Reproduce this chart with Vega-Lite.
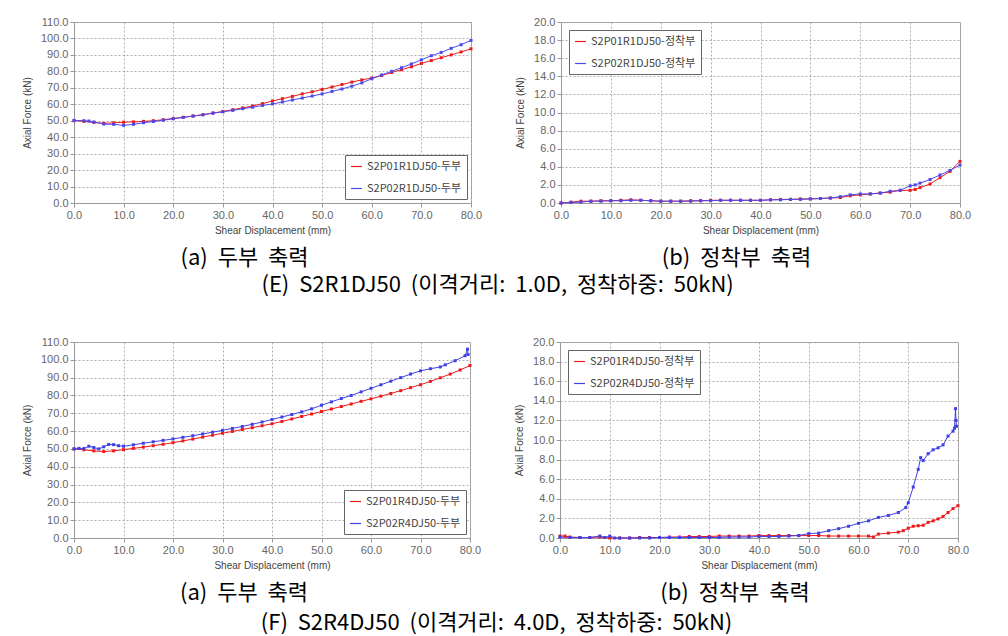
{
  "$schema": "https://vega.github.io/schema/vega-lite/v6.json",
  "background": "white",
  "padding": {"left": 21, "top": 15, "right": 6, "bottom": 2},
  "spacing": 39,
  "resolve": {"scale": {"x": "independent", "y": "independent", "color": "independent"}, "legend": {"color": "independent"}, "axis": {"x": "independent", "y": "independent"}},
  "config": {
    "font": "Liberation Sans",
    "view": {"stroke": "#9a9a9a", "strokeWidth": 1},
    "axis": {
      "labelFontSize": 11, "labelColor": "#666", "labelFont": "Liberation Sans", "labelFlush": false, "labelOverlap": false,
      "titleFontSize": 10, "titleColor": "#444", "titleFontWeight": "normal", "titleFont": "Liberation Sans",
      "gridColor": "#b0b0b0", "gridDash": [2, 2], "gridWidth": 1,
      "domainColor": "#9a9a9a", "tickColor": "#9a9a9a", "tickSize": 4, "labelPadding": 2
    },
    "axisY": {"titlePadding": 8},
    "axisX": {"titlePadding": 5},
    "legend": {
      "title": null, "strokeColor": "#666", "fillColor": "white", "padding": 5,
      "labelFontSize": 11, "labelColor": "#444", "labelFont": "Noto Sans CJK KR",
      "symbolType": "stroke", "symbolStrokeWidth": 1.2, "symbolSize": 120, "rowPadding": 10, "offset": 4
    },
    "title": {"font": "Noto Sans CJK KR", "fontSize": 22, "fontWeight": "normal", "color": "#000"}
  },
  "vconcat": [
    {
      "title": {"text": "(E) \u00a0S2R1DJ50 \u00a0(이격거리: \u00a01.0D, \u00a0정착하중: \u00a050kN)", "orient": "bottom", "anchor": "middle", "offset": 5, "dx": 1},
      "resolve": {"scale": {"x": "independent", "y": "independent", "color": "independent"}, "legend": {"color": "independent"}},
      "spacing": 32,
      "hconcat": [
        {
          "width": 397, "height": 181,
          "title": {"text": "(a) \u00a0두부 \u00a0축력", "orient": "bottom", "anchor": "middle", "frame": "group", "dx": -28, "offset": 13},
          "data": {"values": [
            {"s":"S2P01R1DJ50-두부","x":0,"y":50.0},{"s":"S2P01R1DJ50-두부","x":2,"y":49.6},{"s":"S2P01R1DJ50-두부","x":4,"y":49.0},{"s":"S2P01R1DJ50-두부","x":6,"y":48.4},{"s":"S2P01R1DJ50-두부","x":8,"y":48.7},{"s":"S2P01R1DJ50-두부","x":10,"y":49.1},{"s":"S2P01R1DJ50-두부","x":12,"y":49.3},{"s":"S2P01R1DJ50-두부","x":14,"y":49.6},{"s":"S2P01R1DJ50-두부","x":16,"y":50.0},{"s":"S2P01R1DJ50-두부","x":18,"y":50.6},{"s":"S2P01R1DJ50-두부","x":20,"y":51.4},{"s":"S2P01R1DJ50-두부","x":22,"y":52.1},{"s":"S2P01R1DJ50-두부","x":24,"y":52.9},{"s":"S2P01R1DJ50-두부","x":26,"y":53.7},{"s":"S2P01R1DJ50-두부","x":28,"y":54.7},{"s":"S2P01R1DJ50-두부","x":30,"y":55.6},{"s":"S2P01R1DJ50-두부","x":32,"y":56.7},{"s":"S2P01R1DJ50-두부","x":34,"y":57.8},{"s":"S2P01R1DJ50-두부","x":36,"y":59.0},{"s":"S2P01R1DJ50-두부","x":38,"y":60.4},{"s":"S2P01R1DJ50-두부","x":40,"y":62.0},{"s":"S2P01R1DJ50-두부","x":42,"y":63.4},{"s":"S2P01R1DJ50-두부","x":44,"y":64.8},{"s":"S2P01R1DJ50-두부","x":46,"y":66.3},{"s":"S2P01R1DJ50-두부","x":48,"y":67.6},{"s":"S2P01R1DJ50-두부","x":50,"y":69.0},{"s":"S2P01R1DJ50-두부","x":52,"y":70.5},{"s":"S2P01R1DJ50-두부","x":54,"y":72.0},{"s":"S2P01R1DJ50-두부","x":56,"y":73.5},{"s":"S2P01R1DJ50-두부","x":58,"y":74.8},{"s":"S2P01R1DJ50-두부","x":60,"y":76.0},{"s":"S2P01R1DJ50-두부","x":62,"y":77.5},{"s":"S2P01R1DJ50-두부","x":64,"y":79.3},{"s":"S2P01R1DJ50-두부","x":66,"y":81.0},{"s":"S2P01R1DJ50-두부","x":68,"y":82.8},{"s":"S2P01R1DJ50-두부","x":70,"y":84.8},{"s":"S2P01R1DJ50-두부","x":72,"y":86.6},{"s":"S2P01R1DJ50-두부","x":74,"y":88.3},{"s":"S2P01R1DJ50-두부","x":76,"y":90.0},{"s":"S2P01R1DJ50-두부","x":78,"y":91.8},{"s":"S2P01R1DJ50-두부","x":80,"y":93.7},
            {"s":"S2P02R1DJ50-두부","x":0,"y":50.2},{"s":"S2P02R1DJ50-두부","x":2,"y":50.0},{"s":"S2P02R1DJ50-두부","x":3,"y":49.8},{"s":"S2P02R1DJ50-두부","x":4,"y":49.2},{"s":"S2P02R1DJ50-두부","x":6,"y":48.0},{"s":"S2P02R1DJ50-두부","x":8,"y":47.8},{"s":"S2P02R1DJ50-두부","x":10,"y":47.2},{"s":"S2P02R1DJ50-두부","x":12,"y":47.8},{"s":"S2P02R1DJ50-두부","x":14,"y":48.8},{"s":"S2P02R1DJ50-두부","x":16,"y":49.5},{"s":"S2P02R1DJ50-두부","x":18,"y":50.3},{"s":"S2P02R1DJ50-두부","x":20,"y":51.2},{"s":"S2P02R1DJ50-두부","x":22,"y":52.0},{"s":"S2P02R1DJ50-두부","x":24,"y":52.8},{"s":"S2P02R1DJ50-두부","x":26,"y":53.6},{"s":"S2P02R1DJ50-두부","x":28,"y":54.6},{"s":"S2P02R1DJ50-두부","x":30,"y":55.4},{"s":"S2P02R1DJ50-두부","x":32,"y":56.3},{"s":"S2P02R1DJ50-두부","x":34,"y":57.3},{"s":"S2P02R1DJ50-두부","x":36,"y":58.2},{"s":"S2P02R1DJ50-두부","x":38,"y":59.3},{"s":"S2P02R1DJ50-두부","x":40,"y":60.2},{"s":"S2P02R1DJ50-두부","x":42,"y":61.4},{"s":"S2P02R1DJ50-두부","x":44,"y":62.6},{"s":"S2P02R1DJ50-두부","x":46,"y":63.8},{"s":"S2P02R1DJ50-두부","x":48,"y":65.0},{"s":"S2P02R1DJ50-두부","x":50,"y":66.3},{"s":"S2P02R1DJ50-두부","x":52,"y":67.8},{"s":"S2P02R1DJ50-두부","x":54,"y":69.3},{"s":"S2P02R1DJ50-두부","x":56,"y":71.0},{"s":"S2P02R1DJ50-두부","x":58,"y":73.0},{"s":"S2P02R1DJ50-두부","x":60,"y":75.5},{"s":"S2P02R1DJ50-두부","x":62,"y":77.8},{"s":"S2P02R1DJ50-두부","x":64,"y":80.0},{"s":"S2P02R1DJ50-두부","x":66,"y":82.2},{"s":"S2P02R1DJ50-두부","x":68,"y":84.5},{"s":"S2P02R1DJ50-두부","x":70,"y":87.0},{"s":"S2P02R1DJ50-두부","x":72,"y":89.5},{"s":"S2P02R1DJ50-두부","x":74,"y":91.5},{"s":"S2P02R1DJ50-두부","x":76,"y":94.0},{"s":"S2P02R1DJ50-두부","x":78,"y":96.2},{"s":"S2P02R1DJ50-두부","x":80,"y":98.8}
          ]},
          "encoding": {
            "x": {"field": "x", "type": "quantitative", "scale": {"domain": [0, 80], "nice": false, "padding": 0}, "axis": {"values": [0,10,20,30,40,50,60,70,80], "format": ".1f", "title": "Shear Displacement (mm)"}},
            "y": {"field": "y", "type": "quantitative", "scale": {"domain": [0, 110], "nice": false, "padding": 0}, "axis": {"values": [0,10,20,30,40,50,60,70,80,90,100,110], "format": ".1f", "title": "Axial Force (kN)"}},
            "color": {"field": "s", "type": "nominal", "scale": {"domain": ["S2P01R1DJ50-두부","S2P02R1DJ50-두부"], "range": ["#ee1a1a","#4a4af0"]}, "legend": {"orient": "bottom-right", "offset": 4}}
          },
          "layer": [
            {"mark": {"type": "line", "strokeWidth": 1}},
            {"mark": {"type": "point", "filled": true, "size": 9, "shape": "square", "opacity": 1}}
          ]
        },
        {
          "width": 399, "height": 181,
          "title": {"text": "(b) \u00a0정착부 \u00a0축력", "orient": "bottom", "anchor": "middle", "frame": "group", "dx": -24, "offset": 13},
          "data": {"values": [
            {"s":"S2P01R1DJ50-정착부","x":0,"y":0.0},{"s":"S2P01R1DJ50-정착부","x":2,"y":0.1},{"s":"S2P01R1DJ50-정착부","x":4,"y":0.2},{"s":"S2P01R1DJ50-정착부","x":6,"y":0.2},{"s":"S2P01R1DJ50-정착부","x":8,"y":0.25},{"s":"S2P01R1DJ50-정착부","x":10,"y":0.25},{"s":"S2P01R1DJ50-정착부","x":12,"y":0.3},{"s":"S2P01R1DJ50-정착부","x":14,"y":0.35},{"s":"S2P01R1DJ50-정착부","x":16,"y":0.3},{"s":"S2P01R1DJ50-정착부","x":18,"y":0.25},{"s":"S2P01R1DJ50-정착부","x":20,"y":0.2},{"s":"S2P01R1DJ50-정착부","x":22,"y":0.2},{"s":"S2P01R1DJ50-정착부","x":24,"y":0.2},{"s":"S2P01R1DJ50-정착부","x":26,"y":0.25},{"s":"S2P01R1DJ50-정착부","x":28,"y":0.25},{"s":"S2P01R1DJ50-정착부","x":30,"y":0.3},{"s":"S2P01R1DJ50-정착부","x":32,"y":0.3},{"s":"S2P01R1DJ50-정착부","x":34,"y":0.3},{"s":"S2P01R1DJ50-정착부","x":36,"y":0.3},{"s":"S2P01R1DJ50-정착부","x":38,"y":0.3},{"s":"S2P01R1DJ50-정착부","x":40,"y":0.3},{"s":"S2P01R1DJ50-정착부","x":42,"y":0.35},{"s":"S2P01R1DJ50-정착부","x":44,"y":0.4},{"s":"S2P01R1DJ50-정착부","x":46,"y":0.4},{"s":"S2P01R1DJ50-정착부","x":48,"y":0.45},{"s":"S2P01R1DJ50-정착부","x":50,"y":0.45},{"s":"S2P01R1DJ50-정착부","x":52,"y":0.5},{"s":"S2P01R1DJ50-정착부","x":54,"y":0.55},{"s":"S2P01R1DJ50-정착부","x":56,"y":0.6},{"s":"S2P01R1DJ50-정착부","x":58,"y":0.8},{"s":"S2P01R1DJ50-정착부","x":60,"y":0.9},{"s":"S2P01R1DJ50-정착부","x":62,"y":1.0},{"s":"S2P01R1DJ50-정착부","x":64,"y":1.1},{"s":"S2P01R1DJ50-정착부","x":66,"y":1.2},{"s":"S2P01R1DJ50-정착부","x":68,"y":1.4},{"s":"S2P01R1DJ50-정착부","x":70,"y":1.4},{"s":"S2P01R1DJ50-정착부","x":71,"y":1.5},{"s":"S2P01R1DJ50-정착부","x":72,"y":1.7},{"s":"S2P01R1DJ50-정착부","x":74,"y":2.1},{"s":"S2P01R1DJ50-정착부","x":76,"y":2.8},{"s":"S2P01R1DJ50-정착부","x":78,"y":3.5},{"s":"S2P01R1DJ50-정착부","x":80,"y":4.6},
            {"s":"S2P02R1DJ50-정착부","x":0,"y":0.0},{"s":"S2P02R1DJ50-정착부","x":2,"y":0.05},{"s":"S2P02R1DJ50-정착부","x":4,"y":0.1},{"s":"S2P02R1DJ50-정착부","x":6,"y":0.2},{"s":"S2P02R1DJ50-정착부","x":8,"y":0.2},{"s":"S2P02R1DJ50-정착부","x":10,"y":0.25},{"s":"S2P02R1DJ50-정착부","x":12,"y":0.25},{"s":"S2P02R1DJ50-정착부","x":14,"y":0.3},{"s":"S2P02R1DJ50-정착부","x":16,"y":0.3},{"s":"S2P02R1DJ50-정착부","x":18,"y":0.25},{"s":"S2P02R1DJ50-정착부","x":20,"y":0.2},{"s":"S2P02R1DJ50-정착부","x":22,"y":0.2},{"s":"S2P02R1DJ50-정착부","x":24,"y":0.2},{"s":"S2P02R1DJ50-정착부","x":26,"y":0.2},{"s":"S2P02R1DJ50-정착부","x":28,"y":0.25},{"s":"S2P02R1DJ50-정착부","x":30,"y":0.25},{"s":"S2P02R1DJ50-정착부","x":32,"y":0.3},{"s":"S2P02R1DJ50-정착부","x":34,"y":0.3},{"s":"S2P02R1DJ50-정착부","x":36,"y":0.3},{"s":"S2P02R1DJ50-정착부","x":38,"y":0.3},{"s":"S2P02R1DJ50-정착부","x":40,"y":0.3},{"s":"S2P02R1DJ50-정착부","x":42,"y":0.35},{"s":"S2P02R1DJ50-정착부","x":44,"y":0.35},{"s":"S2P02R1DJ50-정착부","x":46,"y":0.4},{"s":"S2P02R1DJ50-정착부","x":48,"y":0.4},{"s":"S2P02R1DJ50-정착부","x":50,"y":0.45},{"s":"S2P02R1DJ50-정착부","x":52,"y":0.5},{"s":"S2P02R1DJ50-정착부","x":54,"y":0.55},{"s":"S2P02R1DJ50-정착부","x":56,"y":0.7},{"s":"S2P02R1DJ50-정착부","x":58,"y":0.9},{"s":"S2P02R1DJ50-정착부","x":60,"y":1.0},{"s":"S2P02R1DJ50-정착부","x":62,"y":1.0},{"s":"S2P02R1DJ50-정착부","x":64,"y":1.1},{"s":"S2P02R1DJ50-정착부","x":66,"y":1.3},{"s":"S2P02R1DJ50-정착부","x":68,"y":1.4},{"s":"S2P02R1DJ50-정착부","x":70,"y":1.9},{"s":"S2P02R1DJ50-정착부","x":71,"y":2.0},{"s":"S2P02R1DJ50-정착부","x":72,"y":2.2},{"s":"S2P02R1DJ50-정착부","x":74,"y":2.6},{"s":"S2P02R1DJ50-정착부","x":76,"y":3.1},{"s":"S2P02R1DJ50-정착부","x":78,"y":3.6},{"s":"S2P02R1DJ50-정착부","x":80,"y":4.2}
          ]},
          "encoding": {
            "x": {"field": "x", "type": "quantitative", "scale": {"domain": [0, 80], "nice": false, "padding": 0}, "axis": {"values": [0,10,20,30,40,50,60,70,80], "format": ".1f", "title": "Shear Displacement (mm)"}},
            "y": {"field": "y", "type": "quantitative", "scale": {"domain": [0, 20], "nice": false, "padding": 0}, "axis": {"values": [0,2,4,6,8,10,12,14,16,18,20], "format": ".1f", "title": "Axial Force (kN)"}},
            "color": {"field": "s", "type": "nominal", "scale": {"domain": ["S2P01R1DJ50-정착부","S2P02R1DJ50-정착부"], "range": ["#ee1a1a","#4a4af0"]}, "legend": {"orient": "top-left", "offset": 8}}
          },
          "layer": [
            {"mark": {"type": "line", "strokeWidth": 1}},
            {"mark": {"type": "point", "filled": true, "size": 9, "shape": "square", "opacity": 1}}
          ]
        }
      ]
    },
    {
      "title": {"text": "(F) \u00a0S2R4DJ50 \u00a0(이격거리: \u00a04.0D, \u00a0정착하중: \u00a050kN)", "orient": "bottom", "anchor": "middle", "offset": 8, "dx": 1},
      "resolve": {"scale": {"x": "independent", "y": "independent", "color": "independent"}, "legend": {"color": "independent"}},
      "spacing": 32,
      "hconcat": [
        {
          "width": 396, "height": 196,
          "title": {"text": "(a) \u00a0두부 \u00a0축력", "orient": "bottom", "anchor": "middle", "frame": "group", "dx": -28, "offset": 13},
          "data": {"values": [
            {"s":"S2P01R4DJ50-두부","x":0,"y":50.0},{"s":"S2P01R4DJ50-두부","x":2,"y":49.5},{"s":"S2P01R4DJ50-두부","x":4,"y":48.9},{"s":"S2P01R4DJ50-두부","x":6,"y":48.5},{"s":"S2P01R4DJ50-두부","x":8,"y":48.9},{"s":"S2P01R4DJ50-두부","x":10,"y":49.6},{"s":"S2P01R4DJ50-두부","x":12,"y":50.3},{"s":"S2P01R4DJ50-두부","x":14,"y":51.0},{"s":"S2P01R4DJ50-두부","x":16,"y":51.8},{"s":"S2P01R4DJ50-두부","x":18,"y":52.6},{"s":"S2P01R4DJ50-두부","x":20,"y":53.5},{"s":"S2P01R4DJ50-두부","x":22,"y":54.5},{"s":"S2P01R4DJ50-두부","x":24,"y":55.5},{"s":"S2P01R4DJ50-두부","x":26,"y":56.6},{"s":"S2P01R4DJ50-두부","x":28,"y":57.7},{"s":"S2P01R4DJ50-두부","x":30,"y":58.8},{"s":"S2P01R4DJ50-두부","x":32,"y":59.8},{"s":"S2P01R4DJ50-두부","x":34,"y":60.9},{"s":"S2P01R4DJ50-두부","x":36,"y":61.9},{"s":"S2P01R4DJ50-두부","x":38,"y":63.0},{"s":"S2P01R4DJ50-두부","x":40,"y":64.1},{"s":"S2P01R4DJ50-두부","x":42,"y":65.4},{"s":"S2P01R4DJ50-두부","x":44,"y":66.8},{"s":"S2P01R4DJ50-두부","x":46,"y":68.2},{"s":"S2P01R4DJ50-두부","x":48,"y":69.6},{"s":"S2P01R4DJ50-두부","x":50,"y":71.0},{"s":"S2P01R4DJ50-두부","x":52,"y":72.4},{"s":"S2P01R4DJ50-두부","x":54,"y":73.8},{"s":"S2P01R4DJ50-두부","x":56,"y":75.2},{"s":"S2P01R4DJ50-두부","x":58,"y":76.7},{"s":"S2P01R4DJ50-두부","x":60,"y":78.1},{"s":"S2P01R4DJ50-두부","x":62,"y":79.6},{"s":"S2P01R4DJ50-두부","x":64,"y":81.1},{"s":"S2P01R4DJ50-두부","x":66,"y":82.7},{"s":"S2P01R4DJ50-두부","x":68,"y":84.4},{"s":"S2P01R4DJ50-두부","x":70,"y":86.0},{"s":"S2P01R4DJ50-두부","x":72,"y":87.9},{"s":"S2P01R4DJ50-두부","x":74,"y":89.9},{"s":"S2P01R4DJ50-두부","x":76,"y":92.0},{"s":"S2P01R4DJ50-두부","x":78,"y":94.3},{"s":"S2P01R4DJ50-두부","x":80,"y":96.8},
            {"s":"S2P02R4DJ50-두부","x":0,"y":50.0},{"s":"S2P02R4DJ50-두부","x":1,"y":50.3},{"s":"S2P02R4DJ50-두부","x":2,"y":50.2},{"s":"S2P02R4DJ50-두부","x":3,"y":51.5},{"s":"S2P02R4DJ50-두부","x":4,"y":50.8},{"s":"S2P02R4DJ50-두부","x":5,"y":50.0},{"s":"S2P02R4DJ50-두부","x":6,"y":51.2},{"s":"S2P02R4DJ50-두부","x":7,"y":52.5},{"s":"S2P02R4DJ50-두부","x":8,"y":52.4},{"s":"S2P02R4DJ50-두부","x":9,"y":51.8},{"s":"S2P02R4DJ50-두부","x":10,"y":51.5},{"s":"S2P02R4DJ50-두부","x":12,"y":52.3},{"s":"S2P02R4DJ50-두부","x":14,"y":53.2},{"s":"S2P02R4DJ50-두부","x":16,"y":54.0},{"s":"S2P02R4DJ50-두부","x":18,"y":54.8},{"s":"S2P02R4DJ50-두부","x":20,"y":55.6},{"s":"S2P02R4DJ50-두부","x":22,"y":56.5},{"s":"S2P02R4DJ50-두부","x":24,"y":57.4},{"s":"S2P02R4DJ50-두부","x":26,"y":58.4},{"s":"S2P02R4DJ50-두부","x":28,"y":59.4},{"s":"S2P02R4DJ50-두부","x":30,"y":60.4},{"s":"S2P02R4DJ50-두부","x":32,"y":61.5},{"s":"S2P02R4DJ50-두부","x":34,"y":62.6},{"s":"S2P02R4DJ50-두부","x":36,"y":63.8},{"s":"S2P02R4DJ50-두부","x":38,"y":65.1},{"s":"S2P02R4DJ50-두부","x":40,"y":66.5},{"s":"S2P02R4DJ50-두부","x":42,"y":67.9},{"s":"S2P02R4DJ50-두부","x":44,"y":69.3},{"s":"S2P02R4DJ50-두부","x":46,"y":70.8},{"s":"S2P02R4DJ50-두부","x":48,"y":72.5},{"s":"S2P02R4DJ50-두부","x":50,"y":74.5},{"s":"S2P02R4DJ50-두부","x":52,"y":76.4},{"s":"S2P02R4DJ50-두부","x":54,"y":78.3},{"s":"S2P02R4DJ50-두부","x":56,"y":80.0},{"s":"S2P02R4DJ50-두부","x":58,"y":82.0},{"s":"S2P02R4DJ50-두부","x":60,"y":84.0},{"s":"S2P02R4DJ50-두부","x":62,"y":86.0},{"s":"S2P02R4DJ50-두부","x":64,"y":88.0},{"s":"S2P02R4DJ50-두부","x":66,"y":90.0},{"s":"S2P02R4DJ50-두부","x":68,"y":92.0},{"s":"S2P02R4DJ50-두부","x":70,"y":93.8},{"s":"S2P02R4DJ50-두부","x":72,"y":95.0},{"s":"S2P02R4DJ50-두부","x":74,"y":96.0},{"s":"S2P02R4DJ50-두부","x":75,"y":97.2},{"s":"S2P02R4DJ50-두부","x":77,"y":99.5},{"s":"S2P02R4DJ50-두부","x":79,"y":102.3},{"s":"S2P02R4DJ50-두부","x":79.5,"y":106.0},{"s":"S2P02R4DJ50-두부","x":79.6,"y":103.0}
          ]},
          "encoding": {
            "x": {"field": "x", "type": "quantitative", "scale": {"domain": [0, 80], "nice": false, "padding": 0}, "axis": {"values": [0,10,20,30,40,50,60,70,80], "format": ".1f", "title": "Shear Displacement (mm)"}},
            "y": {"field": "y", "type": "quantitative", "scale": {"domain": [0, 110], "nice": false, "padding": 0}, "axis": {"values": [0,10,20,30,40,50,60,70,80,90,100,110], "format": ".1f", "title": "Axial Force (kN)"}},
            "color": {"field": "s", "type": "nominal", "scale": {"domain": ["S2P01R4DJ50-두부","S2P02R4DJ50-두부"], "range": ["#ee1a1a","#4040e8"]}, "legend": {"orient": "bottom-right", "offset": 4}}
          },
          "layer": [
            {"mark": {"type": "line", "strokeWidth": 1}},
            {"mark": {"type": "point", "filled": true, "size": 9, "shape": "square", "opacity": 1}}
          ]
        },
        {
          "width": 398, "height": 196,
          "title": {"text": "(b) \u00a0정착부 \u00a0축력", "orient": "bottom", "anchor": "middle", "frame": "group", "dx": -24, "offset": 13},
          "data": {"values": [
            {"s":"S2P01R4DJ50-정착부","x":0,"y":0.2},{"s":"S2P01R4DJ50-정착부","x":1,"y":0.2},{"s":"S2P01R4DJ50-정착부","x":2,"y":0.1},{"s":"S2P01R4DJ50-정착부","x":4,"y":0.05},{"s":"S2P01R4DJ50-정착부","x":6,"y":0.05},{"s":"S2P01R4DJ50-정착부","x":8,"y":0.1},{"s":"S2P01R4DJ50-정착부","x":10,"y":0.0},{"s":"S2P01R4DJ50-정착부","x":12,"y":0.0},{"s":"S2P01R4DJ50-정착부","x":14,"y":0.0},{"s":"S2P01R4DJ50-정착부","x":16,"y":0.05},{"s":"S2P01R4DJ50-정착부","x":18,"y":0.05},{"s":"S2P01R4DJ50-정착부","x":20,"y":0.05},{"s":"S2P01R4DJ50-정착부","x":22,"y":0.1},{"s":"S2P01R4DJ50-정착부","x":24,"y":0.1},{"s":"S2P01R4DJ50-정착부","x":26,"y":0.15},{"s":"S2P01R4DJ50-정착부","x":28,"y":0.15},{"s":"S2P01R4DJ50-정착부","x":30,"y":0.15},{"s":"S2P01R4DJ50-정착부","x":32,"y":0.2},{"s":"S2P01R4DJ50-정착부","x":34,"y":0.2},{"s":"S2P01R4DJ50-정착부","x":36,"y":0.2},{"s":"S2P01R4DJ50-정착부","x":38,"y":0.2},{"s":"S2P01R4DJ50-정착부","x":40,"y":0.25},{"s":"S2P01R4DJ50-정착부","x":42,"y":0.25},{"s":"S2P01R4DJ50-정착부","x":44,"y":0.25},{"s":"S2P01R4DJ50-정착부","x":46,"y":0.25},{"s":"S2P01R4DJ50-정착부","x":48,"y":0.25},{"s":"S2P01R4DJ50-정착부","x":50,"y":0.25},{"s":"S2P01R4DJ50-정착부","x":52,"y":0.25},{"s":"S2P01R4DJ50-정착부","x":54,"y":0.2},{"s":"S2P01R4DJ50-정착부","x":56,"y":0.2},{"s":"S2P01R4DJ50-정착부","x":58,"y":0.2},{"s":"S2P01R4DJ50-정착부","x":60,"y":0.2},{"s":"S2P01R4DJ50-정착부","x":62,"y":0.2},{"s":"S2P01R4DJ50-정착부","x":63,"y":0.1},{"s":"S2P01R4DJ50-정착부","x":64,"y":0.4},{"s":"S2P01R4DJ50-정착부","x":66,"y":0.5},{"s":"S2P01R4DJ50-정착부","x":68,"y":0.6},{"s":"S2P01R4DJ50-정착부","x":69,"y":0.75},{"s":"S2P01R4DJ50-정착부","x":70,"y":1.0},{"s":"S2P01R4DJ50-정착부","x":71,"y":1.2},{"s":"S2P01R4DJ50-정착부","x":72,"y":1.25},{"s":"S2P01R4DJ50-정착부","x":73,"y":1.3},{"s":"S2P01R4DJ50-정착부","x":74,"y":1.6},{"s":"S2P01R4DJ50-정착부","x":75,"y":1.75},{"s":"S2P01R4DJ50-정착부","x":76,"y":1.95},{"s":"S2P01R4DJ50-정착부","x":77,"y":2.2},{"s":"S2P01R4DJ50-정착부","x":78,"y":2.6},{"s":"S2P01R4DJ50-정착부","x":79,"y":3.0},{"s":"S2P01R4DJ50-정착부","x":80,"y":3.3},
            {"s":"S2P02R4DJ50-정착부","x":0,"y":0.1},{"s":"S2P02R4DJ50-정착부","x":2,"y":0.05},{"s":"S2P02R4DJ50-정착부","x":4,"y":0.05},{"s":"S2P02R4DJ50-정착부","x":6,"y":0.05},{"s":"S2P02R4DJ50-정착부","x":8,"y":0.2},{"s":"S2P02R4DJ50-정착부","x":9,"y":0.05},{"s":"S2P02R4DJ50-정착부","x":10,"y":0.2},{"s":"S2P02R4DJ50-정착부","x":11,"y":0.0},{"s":"S2P02R4DJ50-정착부","x":12,"y":0.0},{"s":"S2P02R4DJ50-정착부","x":14,"y":0.0},{"s":"S2P02R4DJ50-정착부","x":16,"y":0.0},{"s":"S2P02R4DJ50-정착부","x":18,"y":0.0},{"s":"S2P02R4DJ50-정착부","x":20,"y":0.05},{"s":"S2P02R4DJ50-정착부","x":22,"y":0.05},{"s":"S2P02R4DJ50-정착부","x":24,"y":0.05},{"s":"S2P02R4DJ50-정착부","x":26,"y":0.05},{"s":"S2P02R4DJ50-정착부","x":28,"y":0.05},{"s":"S2P02R4DJ50-정착부","x":30,"y":0.05},{"s":"S2P02R4DJ50-정착부","x":32,"y":0.05},{"s":"S2P02R4DJ50-정착부","x":34,"y":0.1},{"s":"S2P02R4DJ50-정착부","x":36,"y":0.1},{"s":"S2P02R4DJ50-정착부","x":38,"y":0.1},{"s":"S2P02R4DJ50-정착부","x":40,"y":0.15},{"s":"S2P02R4DJ50-정착부","x":42,"y":0.15},{"s":"S2P02R4DJ50-정착부","x":44,"y":0.15},{"s":"S2P02R4DJ50-정착부","x":46,"y":0.2},{"s":"S2P02R4DJ50-정착부","x":48,"y":0.25},{"s":"S2P02R4DJ50-정착부","x":50,"y":0.45},{"s":"S2P02R4DJ50-정착부","x":52,"y":0.5},{"s":"S2P02R4DJ50-정착부","x":54,"y":0.75},{"s":"S2P02R4DJ50-정착부","x":56,"y":0.95},{"s":"S2P02R4DJ50-정착부","x":58,"y":1.2},{"s":"S2P02R4DJ50-정착부","x":60,"y":1.5},{"s":"S2P02R4DJ50-정착부","x":62,"y":1.75},{"s":"S2P02R4DJ50-정착부","x":64,"y":2.1},{"s":"S2P02R4DJ50-정착부","x":66,"y":2.3},{"s":"S2P02R4DJ50-정착부","x":68,"y":2.6},{"s":"S2P02R4DJ50-정착부","x":69.5,"y":3.1},{"s":"S2P02R4DJ50-정착부","x":70,"y":3.6},{"s":"S2P02R4DJ50-정착부","x":71,"y":5.2},{"s":"S2P02R4DJ50-정착부","x":72,"y":7.0},{"s":"S2P02R4DJ50-정착부","x":72.5,"y":8.2},{"s":"S2P02R4DJ50-정착부","x":73,"y":7.9},{"s":"S2P02R4DJ50-정착부","x":74,"y":8.6},{"s":"S2P02R4DJ50-정착부","x":75,"y":9.0},{"s":"S2P02R4DJ50-정착부","x":76,"y":9.2},{"s":"S2P02R4DJ50-정착부","x":77,"y":9.5},{"s":"S2P02R4DJ50-정착부","x":78,"y":10.4},{"s":"S2P02R4DJ50-정착부","x":79,"y":10.9},{"s":"S2P02R4DJ50-정착부","x":79.3,"y":11.2},{"s":"S2P02R4DJ50-정착부","x":79.5,"y":13.2},{"s":"S2P02R4DJ50-정착부","x":79.6,"y":12.0},{"s":"S2P02R4DJ50-정착부","x":79.7,"y":11.4}
          ]},
          "encoding": {
            "x": {"field": "x", "type": "quantitative", "scale": {"domain": [0, 80], "nice": false, "padding": 0}, "axis": {"values": [0,10,20,30,40,50,60,70,80], "format": ".1f", "title": "Shear Displacement (mm)"}},
            "y": {"field": "y", "type": "quantitative", "scale": {"domain": [0, 20], "nice": false, "padding": 0}, "axis": {"values": [0,2,4,6,8,10,12,14,16,18,20], "format": ".1f", "title": "Axial Force (kN)"}},
            "color": {"field": "s", "type": "nominal", "scale": {"domain": ["S2P01R4DJ50-정착부","S2P02R4DJ50-정착부"], "range": ["#ee1a1a","#4040e8"]}, "legend": {"orient": "top-left", "offset": 8}}
          },
          "layer": [
            {"mark": {"type": "line", "strokeWidth": 1}},
            {"mark": {"type": "point", "filled": true, "size": 9, "shape": "square", "opacity": 1}}
          ]
        }
      ]
    }
  ]
}
